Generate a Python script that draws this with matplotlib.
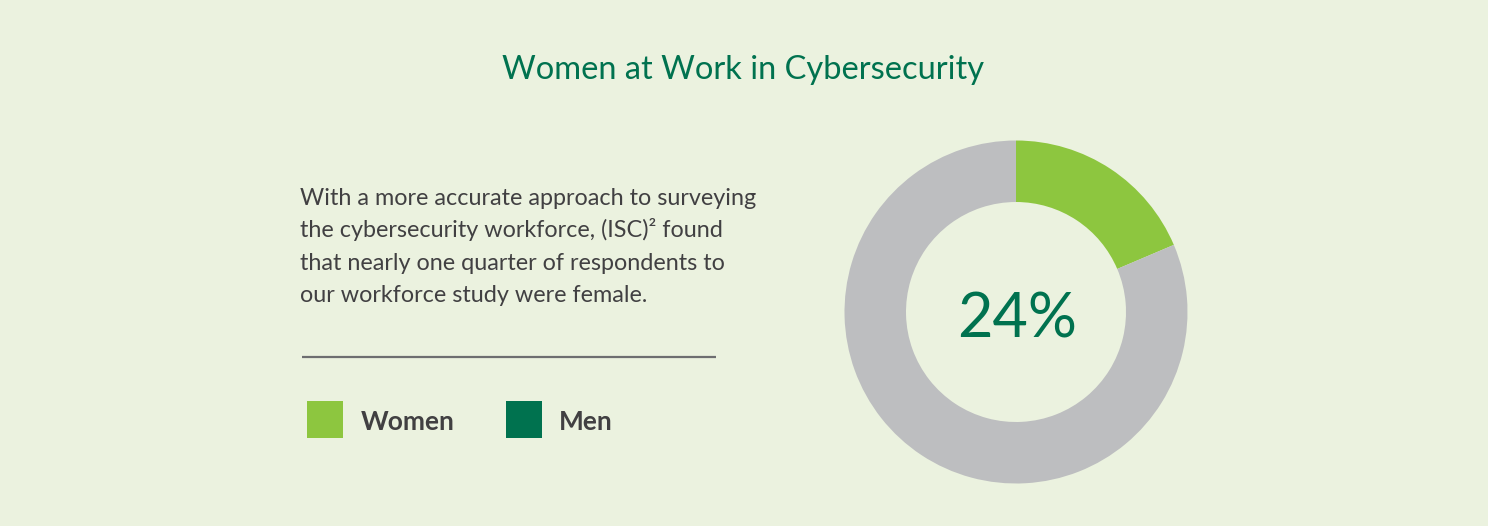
import matplotlib.pyplot as plt
from matplotlib.patches import Rectangle

# data
title = "Women at Work in Cybersecurity"
body_lines = [
    "With a more accurate approach to surveying",
    "the cybersecurity workforce, (ISC)\u00b2 found",
    "that nearly one quarter of respondents to",
    "our workforce study were female.",
]
center_label = "24%"
wedge_labels = ["Women", "Rest"]
wedge_values = [18.6, 81.4]
legend_labels = ["Women", "Men"]

bg = "#EBF2DF"
light_green = "#8DC63F"
dark_green = "#00724F"
grey = "#BDBEC0"
text_grey = "#414042"

W, H = 1488, 526
fig = plt.figure(figsize=(W / 100, H / 100), dpi=100)
fig.patch.set_facecolor(bg)
ax = fig.add_axes([0, 0, 1, 1])
ax.set_facecolor(bg)

def Y(py):
    # convert a pixel row (top=0) to data y
    return H - py

# donut
ax.pie(wedge_values, colors=[light_green, grey], startangle=90, counterclock=False,
       center=(1016, Y(312)), radius=171.5,
       wedgeprops=dict(width=61.5, linewidth=0))
ax.text(1017, Y(338), center_label, ha="center", va="baseline", fontsize=44,
        color=dark_green, family="Lato")

ax.set_xlim(0, W)
ax.set_ylim(0, H)
ax.set_aspect("auto")
ax.axis("off")

# title
ax.text(743, Y(79), title, ha="center", va="baseline", fontsize=23.5,
        color=dark_green, family="Lato")

# paragraph
for i, line in enumerate(body_lines):
    ax.text(300, Y(205 + i * 32.3), line, ha="left", va="baseline",
            fontsize=16.8, color=text_grey, family="Lato")

# divider
ax.plot([302, 716], [Y(357), Y(357)], color="#6D6E70", lw=1.6, solid_capstyle="butt")

# legend
legend_colors = [light_green, dark_green]
box_x = [307, 506]
text_x = [361, 559]
for lab, col, bx, tx in zip(legend_labels, legend_colors, box_x, text_x):
    ax.add_patch(Rectangle((bx, Y(438)), 36, 37, facecolor=col, edgecolor="none"))
    ax.text(tx, Y(430), lab, ha="left", va="baseline", fontsize=19,
            fontweight="bold", color=text_grey, family="Lato")

fig.savefig("out.png", dpi=100, facecolor=bg)
